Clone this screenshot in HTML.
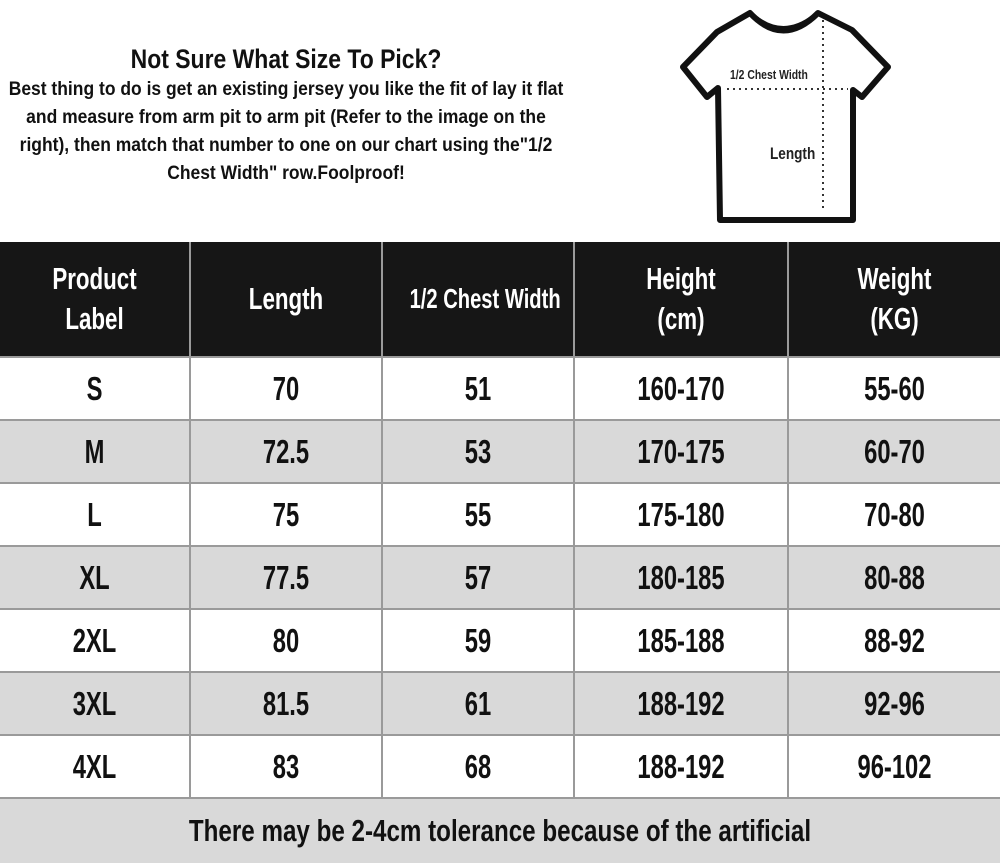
<!DOCTYPE html>
<html><head><meta charset="utf-8"><style>
body{margin:0;width:1000px;height:864px;background:#fff;overflow:hidden;position:relative;font-family:"Liberation Sans",sans-serif;font-weight:bold;}
.s{display:block;transform:scaleX(0.72);white-space:nowrap}
.intro{position:absolute;left:-214px;top:42px;width:1000px;text-align:center;color:#111}
.intro .t{font-size:27px;line-height:34px}
.intro .p{font-size:19px;line-height:28px}
table{position:absolute;left:0;top:242px;width:1000px;border-collapse:collapse;table-layout:fixed}
td{border:2px solid #9a9a9a;text-align:center;font-size:33px;height:61px;padding:0;color:#111;white-space:nowrap;overflow:visible}
tr.h td{background:#161616;color:#fff;height:114px;font-size:31px;line-height:40px;border-top:none}
tr.g td{background:#d9d9d9}
td:first-child{border-left:none}td:last-child{border-right:none}
</style></head><body>
<div class="intro"><div class="t s" style="transform:scaleX(0.85)">Not Sure What Size To Pick?</div>
<div class="p s" style="transform:scaleX(0.92)">Best thing to do is get an existing jersey you like the fit of lay it flat</div>
<div class="p s" style="transform:scaleX(0.92)">and measure from arm pit to arm pit (Refer to the image on the</div>
<div class="p s" style="transform:scaleX(0.92)">right), then match that number to one on our chart using the"1/2</div>
<div class="p s" style="transform:scaleX(0.92)">Chest Width" row.Foolproof!</div></div>
<svg style="position:absolute;left:0;top:0" width="1000" height="240">
<path d="M750,13 Q783,48 818,13 L852,30 L888,67 L862,97 L853,90 L853,220 L720,220 L718,88 L707,97 L683,67 L717,32 Z" fill="#fff" stroke="#111" stroke-width="6" stroke-linejoin="round"/>
<path d="M754,16 Q783,40 814,16" fill="none" stroke="#111" stroke-width="4"/>
<line x1="727" y1="89" x2="848" y2="89" stroke="#333" stroke-width="2" stroke-dasharray="2,4"/>
<line x1="823" y1="20" x2="823" y2="212" stroke="#333" stroke-width="2" stroke-dasharray="2,4"/>
<text x="730" y="79" font-size="13" fill="#222" transform="translate(730,0) scale(0.8,1) translate(-730,0)">1/2 Chest Width</text>
<text x="770" y="159" font-size="17" fill="#222" transform="translate(770,0) scale(0.8,1) translate(-770,0)">Length</text>
</svg>
<table>
<colgroup><col style="width:190px"><col style="width:192px"><col style="width:192px"><col style="width:214px"><col style="width:212px"></colgroup>
<tr class="h"><td><span class="s">Product<br>Label</span></td><td><span class="s">Length</span></td><td style="font-size:28px"><span class="s">1/2 Chest Width</span></td><td><span class="s">Height<br>(cm)</span></td><td><span class="s">Weight<br>(KG)</span></td></tr>
<tr><td><span class="s">S</span></td><td><span class="s">70</span></td><td><span class="s">51</span></td><td><span class="s">160-170</span></td><td><span class="s">55-60</span></td></tr>
<tr class="g"><td><span class="s">M</span></td><td><span class="s">72.5</span></td><td><span class="s">53</span></td><td><span class="s">170-175</span></td><td><span class="s">60-70</span></td></tr>
<tr><td><span class="s">L</span></td><td><span class="s">75</span></td><td><span class="s">55</span></td><td><span class="s">175-180</span></td><td><span class="s">70-80</span></td></tr>
<tr class="g"><td><span class="s">XL</span></td><td><span class="s">77.5</span></td><td><span class="s">57</span></td><td><span class="s">180-185</span></td><td><span class="s">80-88</span></td></tr>
<tr><td><span class="s">2XL</span></td><td><span class="s">80</span></td><td><span class="s">59</span></td><td><span class="s">185-188</span></td><td><span class="s">88-92</span></td></tr>
<tr class="g"><td><span class="s">3XL</span></td><td><span class="s">81.5</span></td><td><span class="s">61</span></td><td><span class="s">188-192</span></td><td><span class="s">92-96</span></td></tr>
<tr><td><span class="s">4XL</span></td><td><span class="s">83</span></td><td><span class="s">68</span></td><td><span class="s">188-192</span></td><td><span class="s">96-102</span></td></tr>
<tr class="g"><td colspan="5" style="font-size:31px;border-bottom:none;height:64px"><span class="s" style="transform:scaleX(0.78)">There may be 2-4cm tolerance because of the artificial</span></td></tr>
</table>
</body></html>
